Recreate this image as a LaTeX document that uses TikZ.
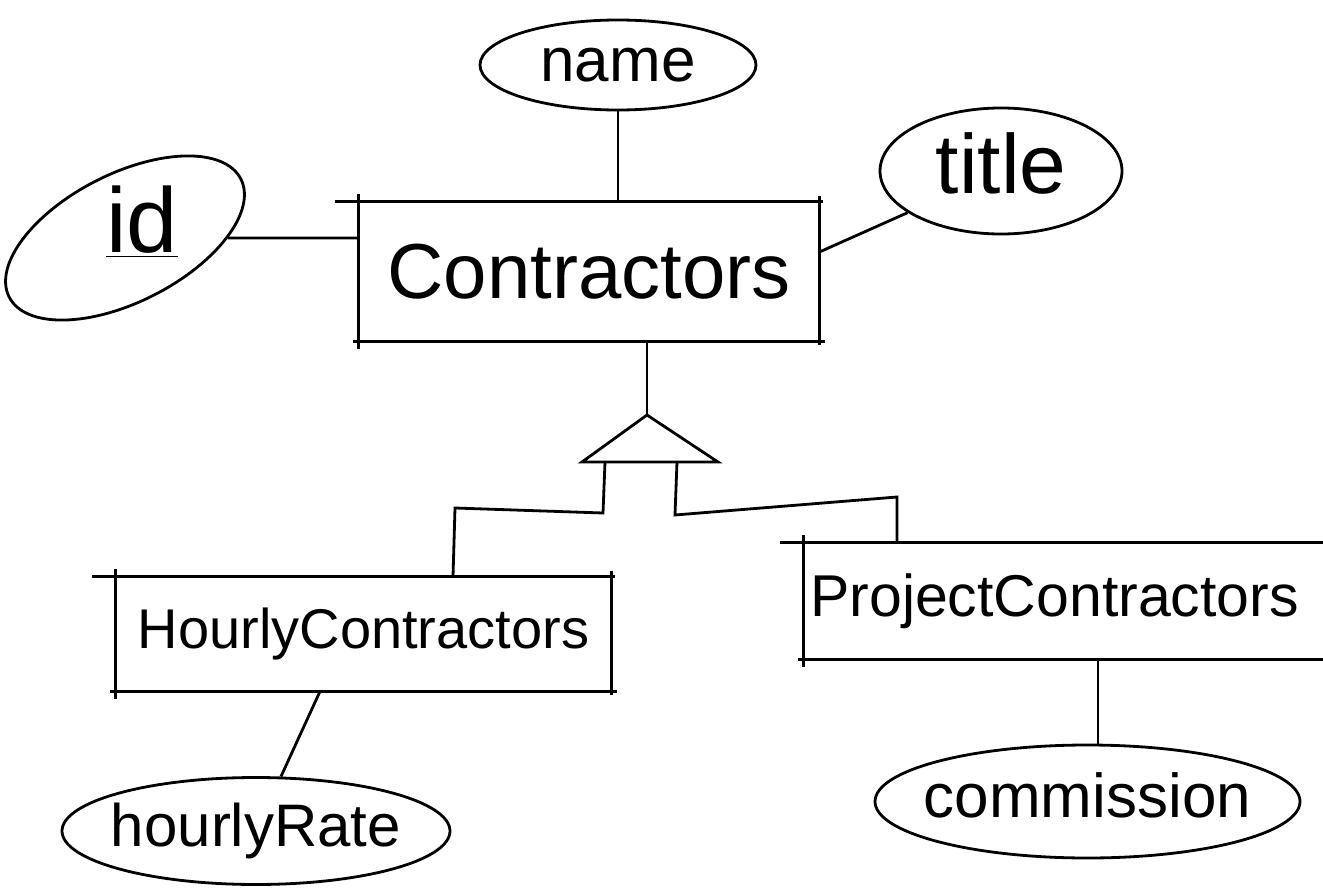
\documentclass[tikz,border=0pt]{standalone}
\usepackage{fontspec}
\setmainfont{Liberation Sans}
\usetikzlibrary{shapes.geometric,calc}

% rectangle edges drawn as separate strokes that run a little past the corners
\newcommand{\sketchbox}[1]{%
  \draw ([xshift=-12pt]#1.north west) -- ([xshift=2pt]#1.north east);
  \draw ([xshift=-3pt]#1.south west) -- ([xshift=3pt]#1.south east);
  \draw ([yshift=4pt]#1.north west) -- ([yshift=-4pt]#1.south west);
  \draw ([yshift=3pt]#1.north east) -- ([yshift=-2pt]#1.south east);
}
% attribute text: takes no room, so the ellipse keeps its set size,
% and its lowercase letters sit on the centre line
\newcommand{\attrtext}[1]{\makebox[0pt]{\raisebox{-0.5ex}[0pt][0pt]{#1}}}

\begin{document}
\begin{tikzpicture}[x=0.5pt,y=-0.5pt,line width=1.4pt,
  entity/.style={rectangle,inner sep=0pt},
  attr/.style={ellipse,draw,inner sep=0pt,text height=0pt,text depth=0pt},
  label/.style={inner sep=0pt}]
\useasboundingbox (0,0) rectangle (1323,888);

% entities
\node[entity,minimum width=229pt,minimum height=68.5pt,font=\fontsize{39}{44}\selectfont]
  (contractors) at (589,271.5) {Contractors};
\node[entity,minimum width=246.5pt,minimum height=56pt,font=\fontsize{28}{32}\selectfont]
  (hourly) at (363.5,634) {HourlyContractors};
\node[entity,minimum width=262.5pt,minimum height=57pt,font=\fontsize{29.5}{34}\selectfont]
  (project) at (1067.5,601) {\hspace*{-13pt}ProjectContractors};
\sketchbox{contractors}
\sketchbox{hourly}
\sketchbox{project}

% attributes
\node[attr,minimum width=138pt,minimum height=45pt,font=\fontsize{31}{36}\selectfont]
  (name) at (618,65) {\attrtext{name}};
\node[attr,minimum width=121pt,minimum height=63pt,font=\fontsize{42}{48}\selectfont]
  (title) at (1001,171) {\attrtext{title}};
\node[ellipse,draw,inner sep=0pt,rotate=27,minimum width=130pt,minimum height=64pt]
  (idE) at (125,238) {};
\node[label,font=\fontsize{46}{52}\selectfont] (id) at (142,222) {\underline{id}};
\node[attr,minimum width=194pt,minimum height=53.5pt,font=\fontsize{30}{34}\selectfont]
  (hourlyRate) at (256,831) {\attrtext{hourlyRate}};
\node[attr,minimum width=212.5pt,minimum height=56.5pt,font=\fontsize{31}{36}\selectfont]
  (commission) at (1087.5,801.5) {\attrtext{commission}};

% attribute links
\draw (name) -- (name |- contractors.north);
\draw (title) -- ([yshift=9.75pt]contractors.east);
\draw (idE) -- (idE -| contractors.west);
\draw ([xshift=-21.75pt]hourly.south) -- (hourlyRate);
\draw ([xshift=15.25pt]project.south) -- ([xshift=15.25pt]project.south |- commission.north);

% specialisation triangle
\coordinate (apex) at (647,415);
\coordinate (baseL) at (582,462);
\coordinate (baseR) at (718,462);
\coordinate (legL) at (605,462);
\coordinate (legR) at (677,462);
\draw (baseL) -- (apex) -- (baseR) -- cycle;
\draw (apex |- contractors.south) -- (apex);
\draw (legL) -- ++(-2,51) -- ++(-148,-5) -- ([xshift=44.75pt]hourly.north);
\draw (legR) -- ++(-2,53) -- ++(222,-18) -- ([xshift=-85.25pt]project.north);
\end{tikzpicture}
\end{document}
